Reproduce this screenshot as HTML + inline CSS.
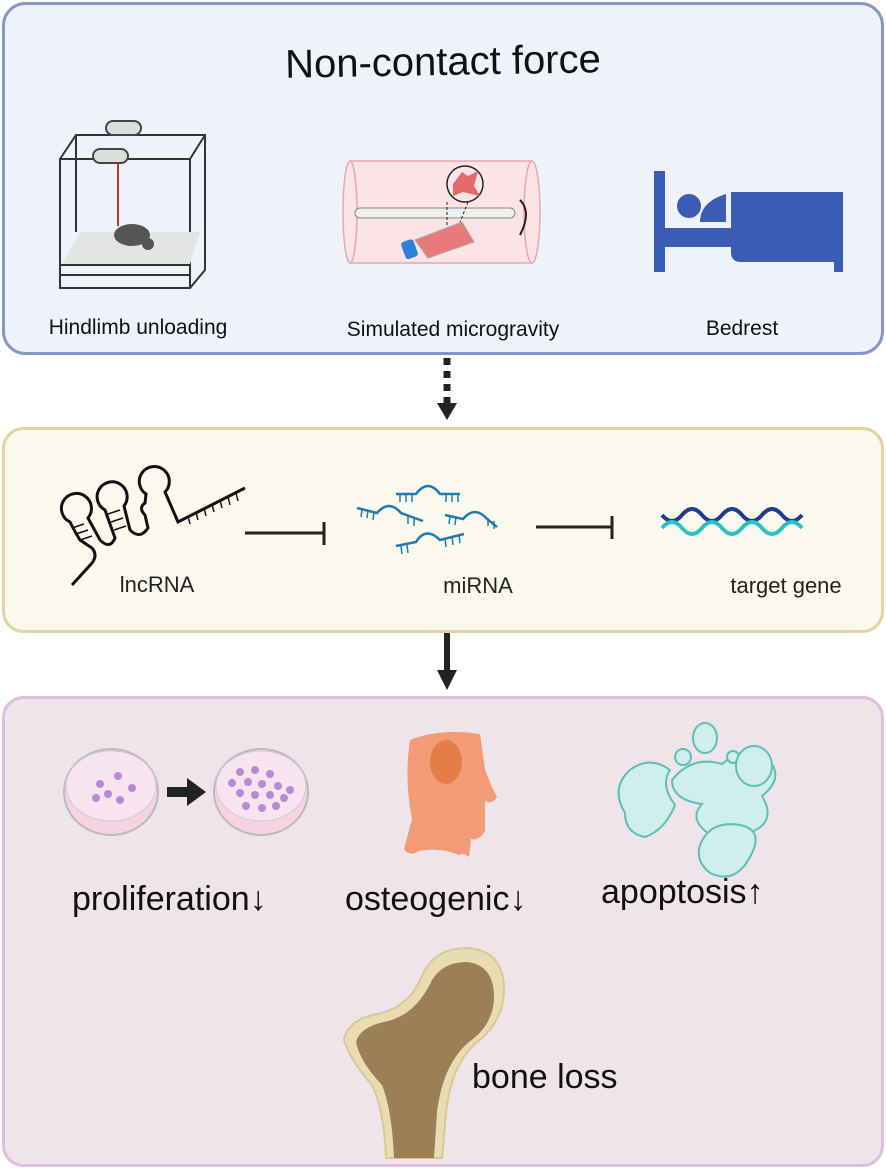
<!DOCTYPE html>
<html><head><meta charset="utf-8"><style>
html,body{margin:0;padding:0;background:#fff;}
svg{display:block;}
text{font-family:"Liberation Sans",sans-serif;}
</style></head><body>
<svg width="886" height="1171" viewBox="0 0 886 1171" xmlns="http://www.w3.org/2000/svg">
<!-- top panel -->
<rect x="3.5" y="3.5" width="879" height="350" rx="22" fill="#eef3fb" stroke="#8797c2" stroke-width="3"/>
<text x="443" y="75" font-size="40" text-anchor="middle" fill="#111" transform="rotate(-1 443 65)">Non-contact force</text>
<!-- cage -->
<g fill="none" stroke="#333" stroke-width="2">
<polygon points="60,159 76,135 205,135 205,270 190,288 60,288"/>
<line x1="60" y1="159" x2="190" y2="159"/><line x1="190" y1="159" x2="205" y2="135"/>
<line x1="190" y1="159" x2="190" y2="288"/><line x1="76" y1="135" x2="76" y2="232"/>
<line x1="60" y1="265" x2="190" y2="265"/><line x1="60" y1="275" x2="190" y2="275"/>
</g>
<polygon points="62,264 80,232 200,232 190,264" fill="#e4e4e4"/>
<rect x="106" y="121" width="35" height="14" rx="7" fill="#ddd" stroke="#444" stroke-width="2"/>
<rect x="93" y="149" width="35" height="14" rx="7" fill="#ddd" stroke="#444" stroke-width="2"/>
<line x1="118" y1="163" x2="118" y2="226" stroke="#b33" stroke-width="2"/>
<ellipse cx="132" cy="235" rx="18" ry="11" fill="#555"/>
<circle cx="148" cy="244" r="6" fill="#555"/>
<!-- cylinder -->
<rect x="350" y="161" width="182" height="102" fill="#fbe3e6" stroke="#e9a7ae" stroke-width="1.5"/>
<ellipse cx="350" cy="212" rx="7" ry="51" fill="#fbe3e6" stroke="#e9a7ae" stroke-width="1.5"/>
<ellipse cx="532" cy="212" rx="8" ry="51" fill="#fbe3e6" stroke="#e9a7ae" stroke-width="1.5"/>
<rect x="355" y="208" width="160" height="10" rx="5" fill="#eee" stroke="#888"/>
<line x1="447" y1="202" x2="447" y2="225" stroke="#222" stroke-dasharray="3,2"/>
<line x1="468" y1="202" x2="460" y2="222" stroke="#222" stroke-dasharray="3,2"/>
<circle cx="465" cy="184" r="18" fill="#fbe3e6" stroke="#222" stroke-width="1.5"/>
<path d="M453,184 L462,172 L468,176 L478,171 L474,186 L480,196 L463,192 L453,196Z" fill="#e56a6a"/>
<path d="M520,200 q12,12 0,35" fill="none" stroke="#222" stroke-width="2"/>
<polygon points="415,240 462,222 474,242 428,258" fill="#e97a7a" stroke="#aaa"/>
<rect x="403" y="240" width="13" height="18" rx="3" fill="#2f7ed8" transform="rotate(-20 410 249)"/>
<!-- bed -->
<g fill="#3a5cb4">
<rect x="654" y="171" width="11" height="101"/>
<rect x="665" y="228" width="70" height="19"/>
<circle cx="689" cy="206" r="12"/>
<path d="M700,222 q0,-20 26,-28 v28z"/>
<path d="M731,192 h112 v80 h-9 v-10 h-93 q-10,0 -10,-10z"/>
</g>
<text x="138" y="334" font-size="21" text-anchor="middle" fill="#111">Hindlimb unloading</text>
<text x="453" y="336" font-size="21" text-anchor="middle" fill="#111">Simulated microgravity</text>
<text x="742" y="335" font-size="21" text-anchor="middle" fill="#111">Bedrest</text>
<!-- dashed arrow -->
<line x1="447" y1="358" x2="447" y2="403" stroke="#222" stroke-width="7" stroke-dasharray="7,6"/>
<polygon points="437,403 457,403 447,420" fill="#222"/>
<!-- middle panel -->
<rect x="3.5" y="428.5" width="879" height="203" rx="20" fill="#fbf9ee" stroke="#e2d4a2" stroke-width="3"/>
<g fill="none" stroke="#111" stroke-width="3">
<path d="M72,585 L92,563 Q98,555 92,548 L80,540 Q75,532 70,522 A15,15 0 1 1 88,518 L100,540 Q110,550 115,538 L105,510 A15,15 0 1 1 124,506 L130,530 Q140,540 148,528 L145,515 Q138,508 145,503 L146,494 A15,15 0 1 1 165,492 L178,522 L245,488"/>
</g>
<g stroke="#111" stroke-width="1.5">
<line x1="188" y1="516" x2="190" y2="524"/><line x1="196" y1="512" x2="198" y2="520"/><line x1="204" y1="508" x2="206" y2="516"/><line x1="212" y1="504" x2="214" y2="512"/><line x1="220" y1="500" x2="222" y2="508"/><line x1="228" y1="497" x2="230" y2="505"/><line x1="236" y1="493" x2="238" y2="501"/>
<line x1="72" y1="528" x2="84" y2="524"/><line x1="76" y1="534" x2="88" y2="530"/><line x1="80" y1="540" x2="92" y2="536"/><line x1="108" y1="514" x2="120" y2="510"/><line x1="111" y1="522" x2="123" y2="518"/><line x1="114" y1="530" x2="126" y2="526"/>
</g>
<line x1="245" y1="533" x2="323" y2="533" stroke="#222" stroke-width="3"/>
<line x1="324" y1="522" x2="324" y2="545" stroke="#222" stroke-width="3"/>
<g fill="none" stroke="#1f7bb0" stroke-width="2.5">
<path d="M396,494 h20 q12,-16 24,0 h20"/><path d="M357,508 l20,5 q12,-14 24,0 l22,8"/><path d="M445,515 l18,4 q12,-14 24,0 l10,8"/><path d="M396,546 l20,-4 q10,-16 24,-2 l24,-6"/>
</g>
<g stroke="#1f7bb0" stroke-width="1.5">
<line x1="400" y1="494" x2="400" y2="502"/><line x1="406" y1="494" x2="406" y2="502"/><line x1="412" y1="494" x2="412" y2="502"/><line x1="446" y1="494" x2="446" y2="502"/><line x1="452" y1="494" x2="452" y2="502"/><line x1="458" y1="494" x2="458" y2="502"/>
<line x1="362" y1="509" x2="361" y2="517"/><line x1="368" y1="510" x2="367" y2="518"/><line x1="374" y1="512" x2="373" y2="520"/><line x1="408" y1="516" x2="408" y2="524"/><line x1="414" y1="518" x2="414" y2="526"/>
<line x1="450" y1="516" x2="449" y2="524"/><line x1="456" y1="517" x2="455" y2="525"/><line x1="488" y1="518" x2="488" y2="526"/><line x1="494" y1="521" x2="494" y2="529"/>
<line x1="401" y1="546" x2="402" y2="554"/><line x1="407" y1="545" x2="408" y2="553"/><line x1="445" y1="539" x2="446" y2="547"/><line x1="452" y1="537" x2="453" y2="545"/><line x1="459" y1="535" x2="460" y2="543"/>
</g>
<line x1="536" y1="527" x2="611" y2="527" stroke="#222" stroke-width="3"/>
<line x1="612" y1="516" x2="612" y2="539" stroke="#222" stroke-width="3"/>
<path d="M662,515 q10,12 20,0 t20,0 t20,0 t20,0 t20,0 t20,0 t20,0" fill="none" stroke="#1f3e8e" stroke-width="4"/>
<path d="M662,528 q10,-12 20,0 t20,0 t20,0 t20,0 t20,0 t20,0 t20,0" fill="none" stroke="#2dc2c2" stroke-width="4"/>
<text x="157" y="592" font-size="22" text-anchor="middle" fill="#222">lncRNA</text>
<text x="478" y="593" font-size="22" text-anchor="middle" fill="#222">miRNA</text>
<text x="786" y="593" font-size="22" text-anchor="middle" fill="#222">target gene</text>
<!-- solid arrow -->
<line x1="447" y1="633" x2="447" y2="672" stroke="#222" stroke-width="6"/>
<polygon points="437,670 457,670 447,690" fill="#222"/>
<!-- bottom panel -->
<rect x="3.5" y="697.5" width="879" height="468" rx="20" fill="#efe4ea" stroke="#dcbfdd" stroke-width="3"/>
<ellipse cx="111" cy="792" rx="47" ry="43" fill="#f7d3e2" stroke="#bbb" stroke-width="2"/>
<ellipse cx="111" cy="786" rx="45" ry="35" fill="#f8e4ee" stroke="#ccc"/>
<ellipse cx="261" cy="792" rx="47" ry="43" fill="#f7d3e2" stroke="#bbb" stroke-width="2"/>
<ellipse cx="261" cy="786" rx="45" ry="35" fill="#f8e4ee" stroke="#ccc"/>
<g fill="#b78ad6">
<circle cx="118" cy="776" r="4"/><circle cx="100" cy="784" r="4"/><circle cx="132" cy="788" r="4"/><circle cx="108" cy="794" r="4"/><circle cx="120" cy="800" r="4"/><circle cx="96" cy="798" r="4"/>
<circle cx="240" cy="772" r="4"/><circle cx="255" cy="770" r="4"/><circle cx="270" cy="774" r="4"/><circle cx="232" cy="783" r="4"/><circle cx="248" cy="782" r="4"/><circle cx="262" cy="784" r="4"/><circle cx="278" cy="786" r="4"/><circle cx="290" cy="790" r="4"/><circle cx="240" cy="793" r="4"/><circle cx="255" cy="795" r="4"/><circle cx="270" cy="795" r="4"/><circle cx="284" cy="798" r="4"/><circle cx="246" cy="806" r="4"/><circle cx="262" cy="808" r="4"/><circle cx="276" cy="806" r="4"/>
</g>
<rect x="167" y="787" width="22" height="10" fill="#222"/>
<polygon points="187,778 206,792 187,806" fill="#222"/>
<path d="M410,740 q30,-12 70,-6 l5,35 q5,15 12,28 q-5,8 -12,4 l0,30 q-6,10 -14,8 l-2,18 q-6,-5 -10,-2 q-20,-8 -40,-4 q-10,6 -15,-2 l8,-30 q-8,-40 -2,-79z" fill="#f29b76"/>
<ellipse cx="446" cy="762" rx="16" ry="22" fill="#e57d48"/>
<g fill="#cfeeec" stroke="#5ebfb3" stroke-width="2">
<path d="M630,770 q20,-15 40,0 q-10,15 5,35 q-10,25 -30,32 q-20,-4 -20,-24 q-15,-25 5,-43z"/>
<path d="M672,780 q20,-25 50,-16 q30,-25 50,0 q10,16 -10,32 q15,25 -10,36 q-20,20 -40,4 q-25,-16 -10,-32 q-30,-4 -30,-24z"/>
<ellipse cx="705" cy="738" rx="12" ry="15"/><circle cx="683" cy="757" r="8"/><circle cx="733" cy="757" r="6"/><ellipse cx="754" cy="766" rx="18" ry="20"/>
<path d="M700,845 q10,-25 40,-20 q25,5 10,32 q-15,28 -40,16 q-15,-12 -10,-28z"/>
</g>
<text x="72" y="910" font-size="34" fill="#111">proliferation↓</text>
<text x="345" y="910" font-size="34" fill="#111">osteogenic↓</text>
<text x="601" y="903" font-size="34" fill="#111">apoptosis↑</text>
<!-- bone -->
<path d="M344,1040 Q347,1020 377,1014 Q409,1008 422,976 Q434,948 467,948 Q505,950 504,993 Q502,1023 476,1043 Q451,1065 446,1113 L442,1158 L386,1158 Q384,1110 372,1085 Q350,1060 344,1040Z" fill="#e8dcb4" stroke="#d9c990" stroke-width="2"/>
<path d="M356,1042 Q360,1027 384,1022 Q414,1016 430,984 Q440,962 467,962 Q495,965 494,1000 Q492,1026 469,1042 Q443,1064 437,1112 L434,1158 L394,1158 Q392,1110 382,1085 Q360,1062 356,1042Z" fill="#9c7f56"/>
<text x="472" y="1088" font-size="34" fill="#111">bone loss</text>
</svg>
</body></html>
